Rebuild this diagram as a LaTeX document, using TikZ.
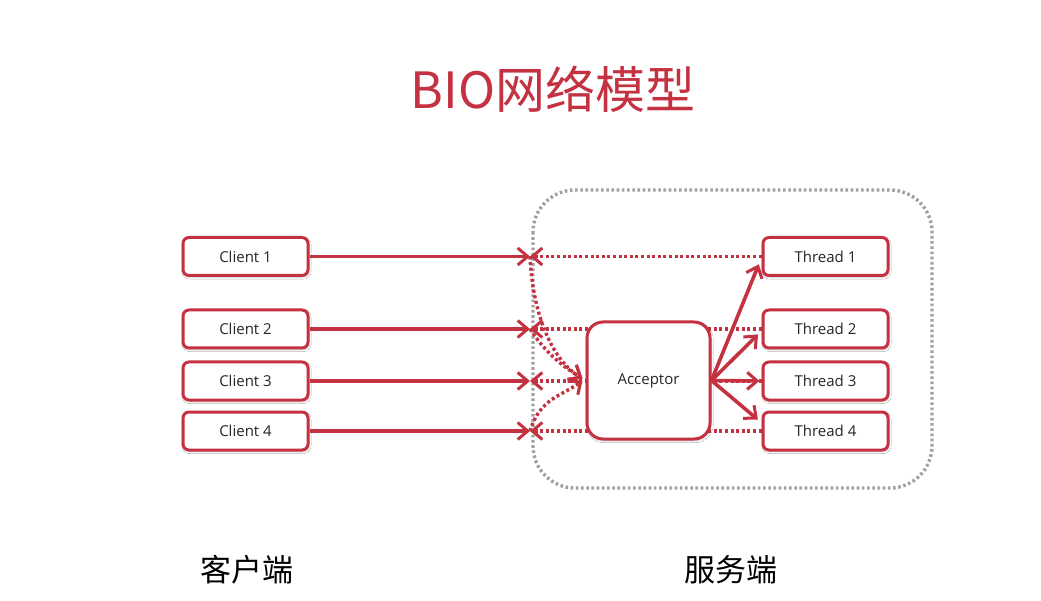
\documentclass[tikz,border=0pt]{standalone}
\usepackage{fontspec}
\setmainfont{Open Sans}
\newfontfamily\cjk{Noto Sans CJK SC}
\usetikzlibrary{arrows.meta,shadows.blur,calc}
\definecolor{bred}{RGB}{196,50,66}
\definecolor{rgray}{RGB}{160,160,160}
\tikzset{
  box/.style={draw=bred, line width=3pt, fill=white, rounded corners=6pt,
    minimum width=125pt, minimum height=38pt, font=\fontsize{15}{17}\selectfont, text=black!85,
    blur shadow={shadow blur steps=6, shadow xshift=1pt, shadow yshift=-1.5pt, shadow opacity=25}},
  accbox/.style={box, rounded corners=16pt, minimum width=123pt, minimum height=117pt},
  tip/.style={-{Straight Barb[length=10pt,width=17pt,line width=3pt]}},
  sol/.style={draw=bred, line width=3.6pt, tip},
  dots/.style={draw=bred, line width=3.4pt, dash pattern=on 3pt off 2.6pt, tip},
  region/.style={draw=rgray, line width=3.4pt, dash pattern=on 2.6pt off 2.6pt, rounded corners=42pt},
  lbl/.style={font=\cjk\fontsize{31}{34}\selectfont, text=black}
}
\begin{document}
\begin{tikzpicture}[x=1pt,y=-1pt]
\useasboundingbox (0,0) rectangle (1041,601);
\fill[white] (0,0) rectangle (1041,601);
% title
\node[font=\cjk\fontsize{50}{56}\selectfont, text=bred] (title) at (553,89) {BIO网络模型};
% server region
\draw[region] (533,190) rectangle (932,488);
% clients
\node[box] (c1) at (245.5,256.5) {Client 1};
\node[box] (c2) at (245.5,329) {Client 2};
\node[box] (c3) at (245.5,381) {Client 3};
\node[box] (c4) at (245.5,431) {Client 4};
% threads
\node[box] (t1) at (825.5,256.5) {Thread 1};
\node[box] (t2) at (825.5,329) {Thread 2};
\node[box] (t3) at (825.5,381) {Thread 3};
\node[box] (t4) at (825.5,431) {Thread 4};
% junction points
\coordinate (j1) at (530,256.5);
\coordinate (j2) at (530,329);
\coordinate (j3) at (530,381);
\coordinate (j4) at (530,431);
% return paths (behind acceptor)
\draw[dots] (t1.west) -- (j1);
\draw[dots] (t2.west) -- (j2);
\draw[dots] (t3.west) -- (j3);
\draw[dots] (t4.west) -- (j4);
% acceptor
\node[accbox] (acc) at (648.5,380.5) {Acceptor};
% client requests
\draw[sol] (c1.east) -- (j1);
\draw[sol] (c2.east) -- (j2);
\draw[sol] (c3.east) -- (j3);
\draw[sol] (c4.east) -- (j4);
% into acceptor
\coordinate (a1) at ($(acc.west)+(-3,-2)$);
\coordinate (a2) at ($(acc.west)+(-3,0)$);
\draw[dots] (j1) .. controls (533,320) and (555,362) .. (a1);
\draw[dots] (j2) .. controls (545,352) and (562,366) .. (a1);
\draw[dots] (j4) .. controls (540,398) and (562,396) .. (a2);
% acceptor dispatch
\draw[sol, shorten >=2pt] (acc.east) -- ($(t1.west)+(-2,6)$);
\draw[sol, shorten >=2pt] (acc.east) -- ($(t2.west)+(-2,4)$);
\draw[sol, shorten >=2pt] (acc.east) -- (t3.west);
\draw[sol, shorten >=2pt] (acc.east) -- ($(t4.west)+(-2,-10)$);
% bottom labels
\node[lbl] (cl) at (247,570) {客户端};
\node[lbl] (sv) at (731,570) {服务端};
\end{tikzpicture}
\end{document}
